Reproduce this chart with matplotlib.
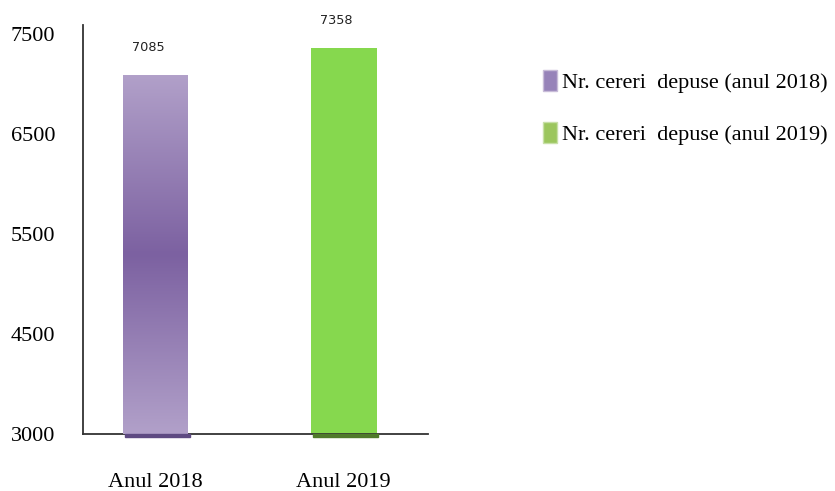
import numpy as np
import matplotlib

matplotlib.use("Agg")
import matplotlib.pyplot as plt
from matplotlib.colors import LinearSegmentedColormap
from matplotlib.patches import Patch, Rectangle

# data
categories = ["Anul 2018", "Anul 2019"]
requests = [7085, 7358]
series_labels = ["Nr. cereri  depuse (anul 2018)", "Nr. cereri  depuse (anul 2019)"]
tick_values = [3000, 4500, 5500, 6500, 7500]

# the value axis is evenly spaced between uneven tick values
knot_vals = np.array([1500] + tick_values + [8500], dtype=float)
knot_pos = np.arange(len(knot_vals), dtype=float) - 1


def fwd(y):
    return np.interp(y, knot_vals, knot_pos)


def inv(p):
    return np.interp(p, knot_pos, knot_vals)


serif = "Liberation Serif"
fig = plt.figure(figsize=(8.35, 4.91), dpi=100)
ax = fig.add_axes([0.0994, 0.1161, 0.4132, 0.833])
ax.set_yscale("function", functions=(fwd, inv))

y_bottom, y_top = 3000, inv(4.09)
x = np.arange(len(categories))
width = 0.35

bars = ax.bar(x, np.array(requests) - y_bottom, bottom=y_bottom, width=width,
              color=["#b1a0c9", "#86d84e"], edgecolor="none", zorder=2)

# purple gradient on the first bar
purple = LinearSegmentedColormap.from_list("pg", ["#b1a0c9", "#7c61a1", "#b1a0c9"])
top_frac = fwd(requests[0]) / fwd(y_top)
ax.imshow(np.linspace(0, 1, 256).reshape(-1, 1), cmap=purple, aspect="auto",
          extent=(x[0] - width / 2, x[0] + width / 2, 0, top_frac),
          transform=ax.get_xaxis_transform(), zorder=3, interpolation="bilinear")

# dark base strips under each bar
for xi, c in zip(x, ["#5e4a82", "#4f7a2a"]):
    ax.add_patch(Rectangle((xi - width / 2 + 0.01, -0.008), width, 0.008,
                           transform=ax.get_xaxis_transform(), color=c,
                           clip_on=False, zorder=4))

for xi, v in zip(x, requests):
    ax.annotate(f"{v}", xy=(xi, v), xytext=(-5, 20), textcoords="offset points",
                ha="center", va="center", fontsize=9.3, family="DejaVu Sans",
                color="#222222")

ax.set_xlim(-0.386, 1.449)
ax.set_ylim(y_bottom, y_top)
ax.set_yticks(tick_values)
ax.set_yticklabels([str(t) for t in tick_values], family=serif, fontsize=16)
ax.set_xticks(x)
ax.set_xticklabels(categories, family=serif, fontsize=16)
ax.tick_params(axis="both", length=0)
ax.tick_params(axis="y", pad=20)
ax.tick_params(axis="x", pad=28)

for s in ["top", "right"]:
    ax.spines[s].set_visible(False)
for s in ["left", "bottom"]:
    ax.spines[s].set_color("#333333")
    ax.spines[s].set_linewidth(1.3)

handles = [Patch(facecolor="#9783b9", edgecolor="#c8bcd8"),
           Patch(facecolor="#9cc65e", edgecolor="#c8e0a8")]
fig.legend(handles, series_labels, loc="upper left",
           bbox_to_anchor=(543 / 835, 1 - 70 / 491), frameon=False,
           prop={"family": serif, "size": 16}, handlelength=0.65,
           handleheight=1.1, handletextpad=0.2, labelspacing=1.3,
           borderpad=0, borderaxespad=0)

plt.savefig("out.png", dpi=100, facecolor="white")
plt.close()
